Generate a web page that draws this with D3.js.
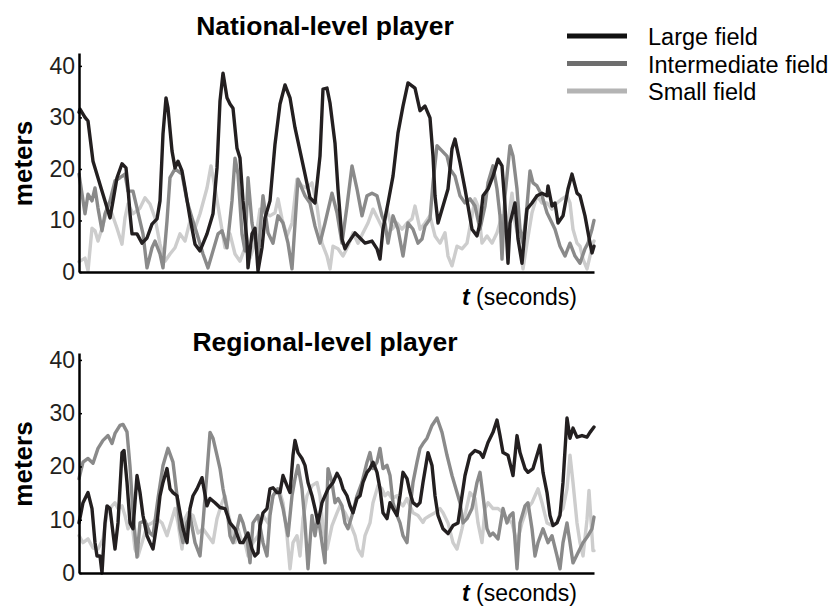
<html lang="en">

<head>
  <meta http-equiv="Content-Type" content="text/html; charset=utf-8" />
  <script src="https://d3js.org/d3.v7.min.js"></script>
  <style>
    body { margin: 0; background: #fff; }
    text { font-family: "Liberation Sans", Arial, Helvetica, sans-serif; }
  </style>
</head>

<body>
  <div id="divId"></div>

  <script>
    // [t, meters] pairs (t in arbitrary time units)
    const largeNational = [[0,31],[0.2,31.6],[1.2,30],[1.8,29.3],[2.8,21.5],[4.2,17],[5.2,13.8],[6.2,10.5],[6.8,13.8],[7.6,18.3],[8.6,21],[9.4,20.2],[9.8,16.3],[10.2,11.3],[10.6,7.4],[11.6,7.4],[12.6,5.6],[13.6,6.6],[14.6,9.3],[15.6,10.3],[16.2,13.8],[16.8,26.8],[17.4,33.8],[17.8,31.8],[18.6,23.5],[19.2,20.2],[19.8,21.5],[20.6,19.6],[21.2,16.3],[22.2,10.5],[23.2,5.4],[24.2,4.1],[25.6,7.4],[26.8,11.3],[27.6,20.2],[28.2,33.2],[28.8,38.6],[29.6,33.8],[30.2,32.6],[30.8,31.8],[31.6,24],[32.2,22.1],[32.8,13.8],[33.6,6],[33.8,0.8],[34.6,7.4],[35.2,8.5],[35.8,0.2],[36.6,4.7],[37.2,10.5],[38.2,13.8],[39.2,24.8],[40.2,32.6],[41.2,36.3],[42.2,33.8],[43.2,28],[44.2,23.5],[45.2,19],[46.2,14.4],[47.2,13.4],[48.2,22.5],[48.8,35.5],[49.6,35.7],[50.2,32.8],[51.2,25],[51.8,16.1],[52.6,6.4],[53.2,4.5],[53.8,5.6],[55.2,7.6],[56.2,6.6],[57.2,5.6],[58.6,6],[59.6,4.5],[60.2,2.5],[60.8,8.3],[61.8,13.4],[62.8,18.6],[63.8,27],[64.8,32.2],[65.8,36.7],[67.2,35.7],[68.2,31.3],[69.2,32.2],[70.2,29.9],[70.8,22.5],[71.2,14.8],[71.8,9.5],[72.8,12.8],[73.8,16.1],[74.6,23.9],[75.2,25.8],[76.2,21.2],[77.2,16.1],[77.8,12.8],[78.6,8.3],[79.6,7],[80.2,9.5],[80.8,14.8],[81.8,16.1],[82.8,18.6],[83.8,21.9],[84.6,20.6],[85.2,12.8],[85.8,1.7],[86.2,9.5],[87.2,13.4],[87.8,6.4],[88.6,1.7],[89.6,12.2],[90.6,13.4],[91.6,14.8],[92.6,15.3],[93.6,14.8],[93.8,16.7],[94.6,12.8],[95.2,13.4],[95.8,9.5],[96.8,10.9],[97.8,16.1],[98.6,19],[99.6,15.3],[100.2,14.8],[101.2,10.9],[102.2,5.6],[102.6,3.7],[103,5]];

    const intermediateNational = [[0,19],[1.2,11.3],[1.8,15.1],[2.6,13.8],[3.2,16.3],[3.8,12.4],[4.6,8],[5.2,11.3],[6.2,13.8],[7.2,17.7],[8.2,18.3],[9.2,19],[9.8,15.7],[10.8,15.7],[11.6,12.4],[12.8,7.4],[13.6,0.8],[14.6,4.7],[15.2,6],[16.2,3.5],[16.8,0.8],[17.6,9.9],[18.2,18.3],[19.2,20],[20.6,19],[21.6,13.8],[22.6,10.5],[23.6,7.4],[24.8,3.5],[25.8,0.8],[26.8,4.1],[27.8,7.4],[28.6,8],[29.6,4.7],[30.6,13.8],[31.2,22.1],[31.8,19],[32.6,7.4],[33.2,4.1],[33.8,18.3],[34.6,9.5],[35.8,3.1],[36.8,14.8],[37.8,7.6],[38.8,5.6],[39.8,10.9],[40.8,9.5],[41.8,5.6],[42.6,0.6],[43.8,18],[45.2,14.8],[46.2,13.4],[47.2,8.9],[48.2,5.6],[49.2,9.5],[50.6,15.3],[51.6,11.5],[52.6,5.6],[53.6,12.8],[54.6,20.6],[55.6,16.1],[56.6,10.9],[57.6,14.8],[58.6,15.3],[59.6,14.8],[60.6,10.9],[61.2,9.5],[61.8,5.6],[62.8,10.9],[63.8,8.3],[64.8,3.1],[65.8,9.5],[66.8,8.3],[67.8,5.6],[68.6,6.4],[69.2,8.9],[70.2,10.3],[70.8,17.3],[71.6,24.5],[72.6,23.5],[73.6,22.5],[74.2,20],[75.2,18.6],[76.2,14.8],[77.2,13.4],[78.2,14.2],[79.2,12.8],[80.2,8.3],[81.2,12.8],[81.8,17.3],[82.8,20.6],[83.6,16.1],[84.2,10.9],[84.6,2.5],[85.2,14.8],[86.2,24.5],[86.8,22.5],[87.6,16.1],[88.2,8.3],[88.8,5.6],[89.6,12.8],[90.2,19.6],[90.8,17.3],[91.6,16.7],[92.6,14.8],[93.6,11.5],[94.6,9.5],[95.2,8.3],[96.2,5],[97.2,3.1],[98.2,5.6],[99.2,3.1],[100.2,1.7],[101.2,4.5],[101.8,5.6],[102.6,8.3],[103,10]];

    const smallNational = [[0,2],[0.2,2.1],[1.2,2.7],[1.8,0.2],[2.6,8.5],[3.2,8],[3.8,6],[4.6,8.5],[5.2,10.5],[5.8,13.2],[6.6,11.3],[7.6,8.5],[8.6,5.4],[9.2,10.5],[9.8,13.2],[10.8,11.3],[12.2,12.4],[13.2,14.4],[14.2,13.2],[15.2,10.5],[16.2,5.4],[17.2,2.1],[18.2,3.5],[19.2,4.7],[20.2,7.4],[21.2,6],[22.2,9.9],[23.2,8.5],[24.2,11.3],[25.6,16.3],[26.4,20.6],[27.2,16.3],[28.2,10.5],[29.2,4.7],[30.2,7.4],[31.2,3.5],[32.2,2.1],[33.2,4.7],[34.2,2.7],[35.2,5.6],[36.2,12.2],[37.2,11.5],[38.2,10.9],[39.2,11.5],[39.8,14.2],[40.6,10.3],[41.6,7],[42.6,9.5],[43.6,18],[44.6,16.7],[45.6,16.3],[46.6,17.3],[47.6,12.8],[48.6,5.6],[49.6,3.1],[50.2,0.6],[50.8,5],[51.8,4.5],[52.8,3.1],[53.8,5],[54.8,7.6],[55.8,5.6],[56.8,7.6],[57.8,9.5],[58.8,12.2],[59.8,10.3],[60.8,8.3],[61.6,12.2],[62.6,8.3],[63.6,9.5],[64.6,8.3],[65.6,9.5],[66.6,10.3],[67.2,12.8],[68.2,8.3],[69.2,9.5],[70.2,10.9],[71.2,7],[72.2,5.6],[73.2,7.6],[73.8,3.1],[74.6,1.2],[75.6,5],[76.6,4.5],[77.6,5.6],[78.6,10.9],[79.2,14.2],[79.8,12.8],[80.6,5.6],[81.6,7],[82.6,5.6],[83.6,7.6],[84.6,10.9],[85.6,8.3],[86.6,15.3],[87.2,9.5],[88.2,5.6],[88.8,0.6],[89.6,5.6],[90.6,11.5],[91.6,14.8],[92.6,13.4],[93.6,13.4],[94.6,12.2],[95.6,13.4],[96.6,14.2],[97.6,14.8],[98.2,13.4],[98.8,8.3],[99.6,5.6],[100.2,5],[100.8,2.5],[101.6,0.6],[102.2,3.1],[102.8,5.6],[103,6]];

    const largeRegional = [[0,9.4],[0.8,13.2],[1.8,15.1],[2.6,12.1],[3.2,5.7],[3.6,3.2],[4.2,3.2],[4.6,0],[5.2,9.4],[5.6,12.6],[6.2,12.1],[6.8,7.5],[7.2,4.5],[7.8,9.4],[8.6,22.6],[9,23],[9.6,17],[10.2,9.4],[10.8,8.3],[11.6,18.3],[12.2,15.1],[12.8,10.8],[13.6,7],[14.2,5.7],[14.8,4.5],[15.6,9.4],[16.2,14.5],[16.8,17],[17.6,19.6],[18.2,15.8],[18.8,15.1],[19.6,14.5],[20.2,11.3],[20.8,8.3],[21.6,5.7],[22.2,12.1],[22.8,14.5],[23.6,15.8],[24.6,17.9],[25.6,12.6],[26.2,14],[27.2,13.2],[28.2,12.3],[29.2,12.1],[30.2,9.4],[31.2,8.3],[32.2,5.7],[32.8,5.7],[33.8,7.5],[34.6,4.5],[35.2,3.2],[35.8,3.8],[36.2,8.9],[36.8,11.3],[37.6,12.1],[38.2,15.8],[38.8,16],[39.6,15.1],[40.2,15.1],[40.8,18.3],[41.6,16.4],[42.2,15.1],[42.8,22.1],[43.2,24.9],[43.8,22.6],[44.6,21.5],[45.2,20.2],[45.8,17],[46.6,14.5],[47.2,12.1],[47.8,9.4],[48.6,13.2],[49.2,14.5],[49.8,15.8],[50.8,17],[51.6,18.7],[52.2,17.7],[52.8,15.8],[53.6,14.5],[54.2,12.6],[54.8,11.3],[55.6,14],[56.2,14.5],[56.8,17],[57.6,18.9],[58.2,19.6],[58.8,20.8],[59.6,18.9],[60.2,15.8],[60.8,11.3],[61.6,10.2],[62.2,13.2],[62.8,12.1],[63.6,10.8],[64.2,14.5],[64.8,18.9],[65.6,17.7],[66.2,15.1],[66.8,13.2],[67.6,12.6],[68.2,13.2],[68.8,17],[69.8,22.6],[70.6,20.2],[71.2,14.5],[71.8,10.8],[72.8,8.3],[73.8,7.4],[74.8,8.9],[75.8,9.4],[76.6,14.5],[77.2,18.3],[78.2,22.1],[79.2,23],[80.2,22.6],[80.8,21.7],[81.8,24.5],[82.8,26.4],[83.6,28.7],[84.2,25.8],[84.8,22.6],[85.8,22.1],[86.8,18.3],[87.6,25.8],[88.2,22.6],[89.2,19.6],[89.8,18.9],[90.8,19.6],[91.6,22.1],[92.2,24],[92.8,18.9],[93.6,15.1],[94.2,10.8],[94.8,8.9],[95.6,9.4],[96.2,10.8],[96.8,17],[97.6,29.1],[98.2,25.3],[98.8,27.2],[99.6,25.5],[100.6,25.8],[101.6,25.5],[102.2,26.4],[103,27.4]];

    const intermediateRegional = [[0,17.7],[0.8,20.8],[1.8,21.5],[2.8,20.6],[3.8,23.4],[4.8,24.9],[5.8,25.8],[6.6,24.3],[7.2,26.2],[8.2,27.7],[8.8,27.9],[9.6,26.5],[10.2,20],[10.8,11.3],[11.6,3],[12.2,9.4],[13.2,9.8],[14.2,7.5],[14.8,7],[15.8,14],[16.8,20.2],[17.8,23.4],[18.8,20.8],[19.6,14.5],[20.2,8.3],[20.8,5.7],[21.6,9.4],[22.2,10.8],[23.2,5.7],[24.2,3.2],[24.8,9.4],[25.6,18.9],[26.2,26.4],[26.8,25.3],[27.6,22.1],[28.2,19.6],[28.8,15.8],[29.6,12.1],[30.2,7],[30.8,5.7],[31.6,8.3],[32.2,10.8],[32.8,9.4],[33.6,6.4],[34.2,1.9],[34.8,9.4],[35.8,10.8],[36.8,5.7],[37.6,3.2],[38.2,10.8],[38.8,14.5],[39.8,15.8],[40.8,12.1],[41.8,7],[42.6,14.5],[43.2,17.7],[43.8,20.2],[44.6,15.8],[45.2,9.4],[45.8,0.8],[46.6,10.8],[47.2,7],[47.8,10.8],[48.6,5.7],[49.2,1.9],[49.8,19.6],[50.6,17],[51.2,13.2],[51.8,14],[52.6,12.6],[53.2,9.4],[53.8,8.3],[54.6,10.8],[55.6,14.5],[56.6,17],[57.6,20.8],[58.2,22.6],[58.8,19.6],[59.6,20.8],[60.2,23.4],[60.8,19.6],[61.6,20.2],[62.2,18.3],[62.8,13.2],[63.6,10.8],[64.2,9.4],[64.8,7],[65.6,5.7],[66.2,12.1],[66.8,17],[67.6,20.8],[68.2,23.4],[68.8,24.3],[69.6,25.3],[70.6,27.7],[71.6,29.1],[72.6,26.4],[73.6,22.1],[74.6,18.3],[75.6,15.1],[76.2,13.2],[76.8,9.4],[77.6,10.2],[78.6,12.1],[79.6,17],[80.2,18.9],[80.8,14.5],[81.6,8.3],[82.2,7],[82.8,7.5],[83.8,6.4],[84.8,12.1],[85.6,9.4],[86.2,10.8],[86.8,11.3],[87.6,0.8],[88.2,9.4],[89.2,12.6],[89.8,13.2],[90.6,8.3],[91.2,3.2],[91.8,5.7],[92.8,8.3],[93.8,5.7],[94.6,7],[95.6,3.2],[96.2,0.8],[96.8,5.7],[97.6,9.4],[98.2,5.7],[98.8,1.9],[99.8,3.8],[100.8,5.7],[101.8,7],[102.6,8.3],[103,10.5]];

    const smallRegional = [[0,7],[0.8,5.7],[1.8,6.4],[2.8,4.7],[3.8,4.5],[4.8,6.4],[5.6,11.3],[6.6,12.6],[7.2,13.2],[7.8,12.1],[8.6,12.6],[9.2,10.8],[9.8,8.3],[10.6,9.4],[11.2,4.5],[11.8,3.2],[12.6,5.7],[13.6,8.9],[14.6,9.4],[15.6,10.2],[16.6,9.4],[17.6,7],[18.6,10.2],[19.2,12.1],[19.8,9.4],[20.6,4.5],[21.2,10.2],[21.8,11.3],[22.8,10.8],[23.8,7.5],[24.8,8.3],[25.8,7],[26.8,5.7],[27.6,10.2],[28.6,13.2],[29.2,14.5],[29.8,11.3],[30.6,8.3],[31.2,5.7],[31.8,8.3],[32.6,5.7],[33.2,5.7],[33.8,3.2],[34.8,5.7],[35.8,7],[36.8,10.8],[37.8,9.4],[38.8,14.5],[39.6,15.8],[40.2,15.1],[40.8,13.2],[41.6,7],[42.2,0.8],[42.8,5.7],[43.6,7],[44.2,3.2],[44.8,10.2],[45.6,14.5],[46.6,16.4],[47.6,17],[48.2,14.5],[48.8,8.3],[49.6,4.5],[50.6,8.9],[51.6,11.3],[52.2,12.6],[53.2,11.3],[54.2,9.4],[55.2,7],[55.8,4.5],[56.6,3.2],[57.2,7],[58.2,9.4],[58.8,13.2],[59.8,16.4],[60.6,15.8],[61.2,14.5],[61.8,15.1],[62.6,14],[63.6,14.5],[64.2,13.2],[64.8,12.6],[65.6,14],[66.2,12.6],[66.8,11.3],[67.8,10.8],[68.8,9.5],[69.2,10.2],[70.2,10.8],[71.2,11.3],[72.2,12.1],[72.8,11.3],[73.8,9.4],[74.8,5.7],[75.6,4.5],[76.6,8.3],[77.6,12.6],[78.2,15.1],[79.2,14],[79.8,9.4],[80.6,5.7],[81.2,12.1],[81.8,13.2],[82.8,12.1],[83.8,12.1],[84.8,11.3],[85.6,10.2],[86.6,9.4],[87.6,5.7],[88.6,9.4],[89.6,12.1],[90.6,13.2],[91.2,14.5],[91.8,15.8],[92.6,13.2],[93.6,9.4],[94.6,8.9],[95.6,9.4],[96.2,11.3],[96.8,12.1],[97.6,15.8],[98.2,22.1],[98.8,17],[99.6,9.4],[100.2,5.7],[100.8,3.2],[101.6,10],[102,15.5],[102.8,4.2],[103,4.2]];

    const seriesNames = ["Large field", "Intermediate field", "Small field"];
    const lineColors = ["#231f20", "#8a8a8a", "#cdcdcd"];
    const legendColors = ["#111111", "#6e6e6e", "#b4b4b4"];
    const panelTitles = ["National-level player", "Regional-level player"];
    const yTicks = [0, 10, 20, 30, 40];
    const tDomain = [0, 103];

    const panels = [
      { title: panelTitles[0], series: [largeNational, intermediateNational, smallNational], top: 53, zero: 272, yMax: 42.5, titleY: 35, tLabelY: 305 },
      { title: panelTitles[1], series: [largeRegional, intermediateRegional, smallRegional], top: 353, zero: 573, yMax: 41.3, titleY: 351, tLabelY: 601 },
    ];

    const svg_width = 833;
    const svg_height = 607;
    const plotLeft = 79;
    const plotRight = 594;

    const svg = d3
      .select("#divId")
      .append("svg")
      .attr("width", svg_width)
      .attr("height", svg_height);

    svg.append("rect")
      .attr("width", svg_width)
      .attr("height", svg_height)
      .attr("fill", "#fff");

    const x = d3.scaleLinear().domain(tDomain).range([plotLeft, plotRight]);

    panels.forEach(panel => {
      const y = d3.scaleLinear().domain([0, panel.yMax]).range([panel.zero, panel.top]);
      const g = svg.append("g");

      ////////////////////////
      // lines (small field at the back, large field on top)
      const line = d3.line()
        .x(d => x(d[0]))
        .y(d => y(d[1]));

      [2, 1, 0].forEach(i => {
        g.append("path")
          .datum(panel.series[i])
          .attr("d", line)
          .attr("fill", "none")
          .attr("stroke", lineColors[i])
          .attr("stroke-width", 3.4)
          .attr("stroke-linejoin", "round")
          .attr("stroke-linecap", "round");
      });

      ////////////////////////
      // Y axis
      g.append("g")
        .attr("transform", `translate(${plotLeft},0)`)
        .call(d3.axisLeft(y).tickValues(yTicks).tickSize(-3).tickSizeOuter(0).tickPadding(4))
        .call(g => g.select(".domain").attr("stroke", "#000").attr("stroke-width", 2.5))
        .call(g => g.selectAll(".tick line").attr("stroke", "#000").attr("stroke-width", 1.5))
        .call(g => g.selectAll("text")
          .attr("font-size", 23)
          .attr("fill", "#231f20")
          .attr("font-family", "'Liberation Sans', Arial, sans-serif")
        );

      ////////////////////////
      // X axis (no ticks)
      g.append("g")
        .attr("transform", `translate(0,${panel.zero})`)
        .call(d3.axisBottom(x).tickValues([]).tickSizeOuter(0))
        .call(g => g.select(".domain").attr("stroke", "#000").attr("stroke-width", 2.5));

      ////////////////////////
      // titles and labels
      g.append("text")
        .attr("x", 325)
        .attr("y", panel.titleY)
        .attr("text-anchor", "middle")
        .attr("font-size", 26.5)
        .attr("font-weight", "bold")
        .attr("fill", "#000")
        .text(panel.title);

      g.append("text")
        .attr("transform", `translate(32,${(panel.top + panel.zero) / 2 + 1}) rotate(-90)`)
        .attr("text-anchor", "middle")
        .attr("font-size", 26)
        .attr("font-weight", "bold")
        .attr("fill", "#000")
        .text("meters");

      const tLabel = g.append("text")
        .attr("x", 577)
        .attr("y", panel.tLabelY)
        .attr("text-anchor", "end")
        .attr("font-size", 23)
        .attr("fill", "#000");
      tLabel.append("tspan").attr("font-weight", "bold").attr("font-style", "italic").text("t");
      tLabel.append("tspan").text(" (seconds)");
    });

    /////////////////////////
    // legend
    const legend = svg.append("g")
      .selectAll("g")
      .data(seriesNames)
      .enter()
      .append("g")
      .attr("transform", (d, i) => `translate(567, ${36 + i * 27.5})`);

    legend.append("line")
      .attr("x1", 0)
      .attr("x2", 60)
      .attr("stroke", (d, i) => legendColors[i])
      .attr("stroke-width", 5);

    legend.append("text")
      .attr("x", 81)
      .attr("y", 9)
      .attr("font-size", 23.5)
      .attr("fill", "#000")
      .text(d => d);
  </script>
</body>

</html>
